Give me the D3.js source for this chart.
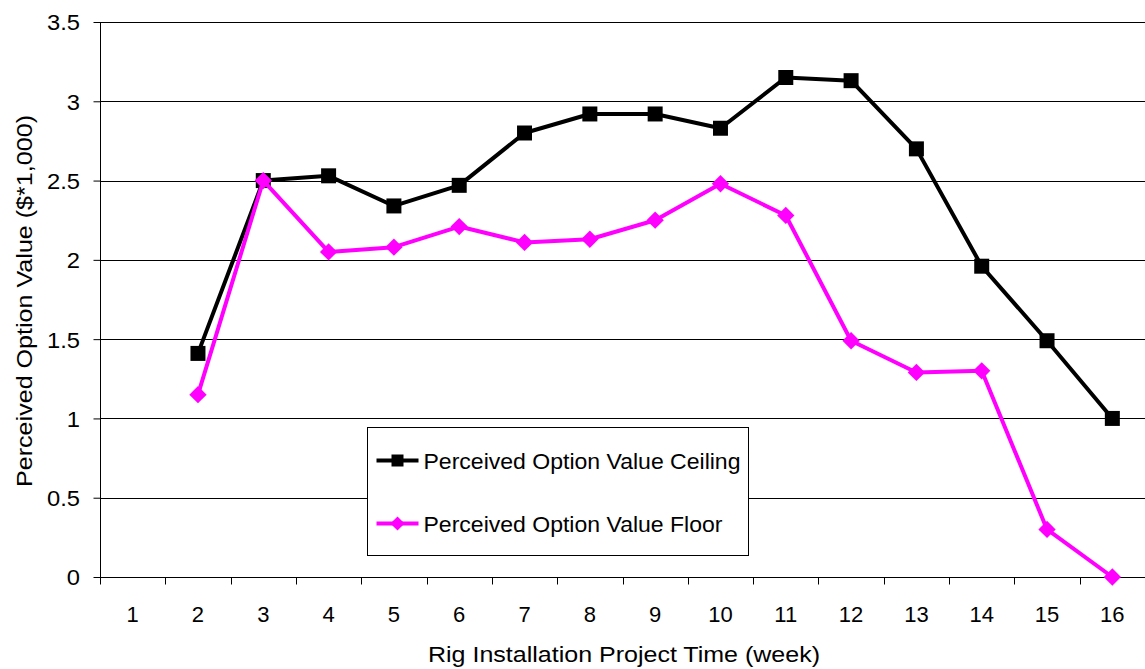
<!DOCTYPE html>
<html>
<head>
<meta charset="utf-8">
<script src="https://cdn.jsdelivr.net/npm/d3@7"></script>
<style>
  body { margin: 0; background: #fff; }
  svg { display: block; font-family: "Liberation Sans", Arial, sans-serif; }
</style>
</head>
<body>
<div id="chart"></div>
<script>
// Data
const weeks = [1, 2, 3, 4, 5, 6, 7, 8, 9, 10, 11, 12, 13, 14, 15, 16];
const ceiling = [null, 1.41, 2.50, 2.53, 2.34, 2.47, 2.80, 2.92, 2.92, 2.83, 3.15, 3.13, 2.70, 1.96, 1.49, 1.00];
const floor = [null, 1.15, 2.50, 2.05, 2.08, 2.21, 2.11, 2.13, 2.25, 2.48, 2.28, 1.49, 1.29, 1.30, 0.30, 0.00];
const yTicks = [0, 0.5, 1, 1.5, 2, 2.5, 3, 3.5];
const seriesNames = ["Perceived Option Value Ceiling", "Perceived Option Value Floor"];

const width = 1145;
const height = 669;
const margin = { top: 22, bottom: 92, left: 100, right: 0 };
const font = "Liberation Sans, Arial, sans-serif";

const svg = d3
  .select("#chart")
  .append("svg")
  .attr("width", width)
  .attr("height", height);

const xScale = d3
  .scaleBand()
  .domain(weeks)
  .range([margin.left, width - margin.right]);

const yScale = d3
  .scaleLinear()
  .domain([0, 3.5])
  .range([height - margin.bottom, margin.top]);

// Grid lines
svg
  .append("g")
  .selectAll("line")
  .data(yTicks.slice(1))
  .enter()
  .append("line")
  .attr("x1", margin.left)
  .attr("x2", width - margin.right)
  .attr("y1", (d) => Math.round(yScale(d)) + 0.5)
  .attr("y2", (d) => Math.round(yScale(d)) + 0.5)
  .attr("stroke", "#000")
  .attr("stroke-width", 1);

// Axes
const yAxis = svg
  .append("g")
  .attr("transform", `translate(${margin.left + 0.5}, 0)`)
  .call(d3.axisLeft(yScale).tickValues(yTicks).tickFormat(d3.format("")).tickSize(7).tickPadding(12));
yAxis.select(".domain").attr("stroke", "#000").attr("d", `M0,${yScale(0)}V${yScale(3.5)}`);
yAxis.selectAll("text")
  .attr("font-size", 22)
  .attr("fill", "#000")
  .attr("font-family", font)
  .attr("transform", function () { return "scale(1.08,1)"; })
  .attr("dy", "0.36em");

const xAxis = svg
  .append("g")
  .attr("transform", `translate(0, ${Math.round(yScale(0)) + 0.5})`);
xAxis
  .append("line")
  .attr("x1", margin.left)
  .attr("x2", width)
  .attr("stroke", "#000");
xAxis
  .selectAll(".tick")
  .data(weeks.concat([17]))
  .enter()
  .append("line")
  .attr("x1", (d, i) => Math.round(margin.left + i * xScale.bandwidth()) + 0.5)
  .attr("x2", (d, i) => Math.round(margin.left + i * xScale.bandwidth()) + 0.5)
  .attr("y1", 0)
  .attr("y2", 7)
  .attr("stroke", "#000");
xAxis
  .selectAll("text")
  .data(weeks)
  .enter()
  .append("text")
  .attr("x", (d) => xScale(d) + xScale.bandwidth() / 2)
  .attr("y", 44)
  .attr("text-anchor", "middle")
  .attr("font-size", 22)
  .text((d) => d);

// Axis titles
svg
  .append("text")
  .attr("x", 624)
  .attr("y", 662)
  .attr("text-anchor", "middle")
  .attr("font-size", 22)
  .attr("textLength", 392)
  .attr("lengthAdjust", "spacingAndGlyphs")
  .text("Rig Installation Project Time (week)");

svg
  .append("text")
  .attr("transform", `translate(32, 301) rotate(-90)`)
  .attr("text-anchor", "middle")
  .attr("font-size", 22)
  .attr("textLength", 372)
  .attr("lengthAdjust", "spacingAndGlyphs")
  .text("Perceived Option Value ($*1,000)");

// Lines
const cx = (i) => xScale(weeks[i]) + xScale.bandwidth() / 2;
const line = d3
  .line()
  .defined((d) => d != null)
  .x((d, i) => cx(i))
  .y((d) => yScale(d));

const square = d3.symbol().type(d3.symbolSquare).size(225);
const diamond = d3.symbol().type(d3.symbolSquare).size(150);

function drawSeries(values, color, marker, rotate) {
  svg
    .append("path")
    .datum(values)
    .attr("fill", "none")
    .attr("stroke", color)
    .attr("stroke-width", 4)
    .attr("stroke-linejoin", "round")
    .attr("d", line);
  svg
    .append("g")
    .selectAll("path")
    .data(values.map((v, i) => ({ v, i })).filter((d) => d.v != null))
    .enter()
    .append("path")
    .attr("d", marker)
    .attr("transform", (d) => `translate(${cx(d.i)}, ${yScale(d.v)}) rotate(${rotate})`)
    .attr("fill", color);
}

drawSeries(ceiling, "#000", square, 0);
drawSeries(floor, "#ff00ff", diamond, 45);

// Legend
const legend = svg.append("g").attr("transform", "translate(367.5, 427.5)");
legend
  .append("rect")
  .attr("width", 381)
  .attr("height", 128)
  .attr("fill", "#fff")
  .attr("stroke", "#000");

const legendItems = [
  { name: seriesNames[0], color: "#000", rotate: 0, size: 144, len: 317, y: 33 },
  { name: seriesNames[1], color: "#ff00ff", rotate: 45, size: 100, len: 299, y: 96 },
];
legendItems.forEach((d) => {
  legend
    .append("line")
    .attr("x1", 9)
    .attr("x2", 51)
    .attr("y1", d.y)
    .attr("y2", d.y)
    .attr("stroke", d.color)
    .attr("stroke-width", 4);
  legend
    .append("path")
    .attr("d", d3.symbol().type(d3.symbolSquare).size(d.size)())
    .attr("transform", `translate(30, ${d.y}) rotate(${d.rotate})`)
    .attr("fill", d.color);
  legend
    .append("text")
    .attr("x", 56)
    .attr("y", d.y + 8)
    .attr("font-size", 22)
    .attr("textLength", d.len)
    .attr("lengthAdjust", "spacingAndGlyphs")
    .text(d.name);
});
</script>
</body>
</html>
